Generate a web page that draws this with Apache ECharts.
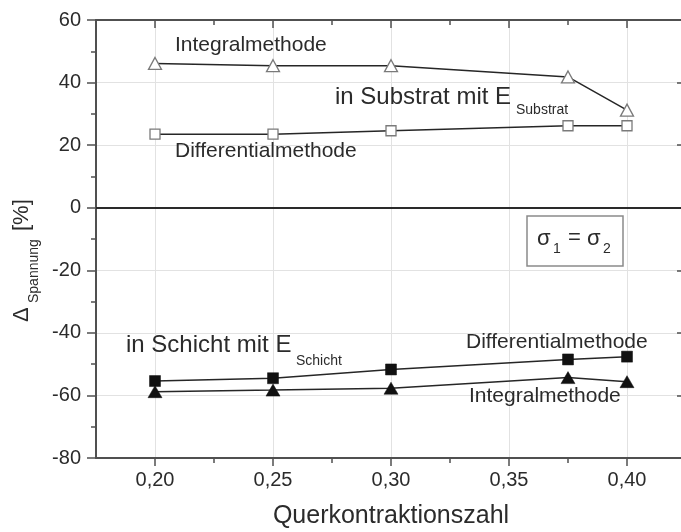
<!DOCTYPE html>
<html>
<head>
<meta charset="utf-8">
<script src="https://cdn.jsdelivr.net/npm/echarts@6/dist/echarts.min.js"></script>
<style>
  html, body { margin: 0; padding: 0; background: #fff; }
  #chart { width: 681px; height: 532px; }
</style>
</head>
<body>
<div id="chart"></div>
<script>
// Poisson's ratio (Querkontraktionszahl) of the evaluated cases
const nu = [0.20, 0.25, 0.30, 0.375, 0.40];

// Stress deviation in % – substrate (open symbols)
const substratIntegral     = [46.1, 45.4, 45.4, 41.8, 31.2];
const substratDifferential = [23.5, 23.5, 24.6, 26.2, 26.2];

// Stress deviation in % – layer (filled symbols)
const schichtDifferential  = [-55.4, -54.5, -51.7, -48.5, -47.6];
const schichtIntegral      = [-58.8, -58.3, -57.7, -54.3, -55.6];

// Axis tick positions
const xMajorTicks = [0.20, 0.25, 0.30, 0.35, 0.40];
const xMinorTicks = [0.225, 0.275, 0.325, 0.375];

const FONT = '"Liberation Sans", Arial, Helvetica, sans-serif';
const INK = '#2b2b2b';
const FRAME = '#505050';
const GRID = '#e2e2e2';

const pairs = (xs, ys) => xs.map((x, i) => [x, ys[i]]);

// text placed by its baseline (canvas "middle" sits ~0.3465 em above it)
function txt(text, x, baseline, size, extra) {
  return Object.assign({
    type: 'text',
    x: x,
    y: baseline - 0.3465 * size,
    z: 20,
    style: {
      text: text, fontSize: size, fontFamily: FONT, fill: INK,
      align: 'left', verticalAlign: 'middle',
      textAlign: 'left', textVerticalAlign: 'middle'
    }
  }, extra || {});
}

const openStyle = { color: '#ffffff', borderColor: '#7a7a7a', borderWidth: 1.3 };
const filledStyle = { color: '#111111', borderColor: '#111111', borderWidth: 0.5 };
const lineStyle = { color: '#262626', width: 1.5 };

const chart = echarts.init(document.getElementById('chart'), null, { renderer: 'canvas' });

const xBase = { type: 'value', min: 0.175, max: 0.425, gridIndex: 0 };

chart.setOption({
  animation: false,
  backgroundColor: '#ffffff',
  textStyle: { fontFamily: FONT },
  // the plot frame runs a few pixels past the right edge of the canvas
  grid: { left: 96, top: 20, width: 590, height: 438, containLabel: false,
          outerBoundsMode: 'none' },
  xAxis: [
    Object.assign({}, xBase, {
      position: 'bottom',
      name: 'Querkontraktionszahl',
      nameLocation: 'middle',
      nameGap: 46,
      nameTextStyle: { fontSize: 25, color: INK, fontFamily: FONT },
      axisLine: { show: true, onZero: false, lineStyle: { color: FRAME, width: 2 } },
      axisTick: { show: true, inside: false, length: 8, customValues: xMajorTicks,
                  lineStyle: { color: FRAME, width: 1.5 } },
      axisLabel: { show: true, customValues: xMajorTicks, margin: 12, fontSize: 20,
                   color: INK, fontFamily: FONT,
                   formatter: v => v.toFixed(2).replace('.', ',') },
      splitLine: { show: true, lineStyle: { color: GRID, width: 1 } }
    }),
    Object.assign({}, xBase, {
      position: 'bottom',
      axisLine: { show: false, onZero: false },
      axisTick: { show: true, inside: false, length: 5, customValues: xMinorTicks,
                  lineStyle: { color: FRAME, width: 1.5 } },
      axisLabel: { show: false },
      splitLine: { show: false }
    }),
    Object.assign({}, xBase, {
      position: 'top',
      axisLine: { show: true, onZero: false, lineStyle: { color: FRAME, width: 2 } },
      axisTick: { show: true, inside: true, length: 8, customValues: xMajorTicks,
                  lineStyle: { color: FRAME, width: 1.5 } },
      axisLabel: { show: false },
      splitLine: { show: false }
    }),
    Object.assign({}, xBase, {
      position: 'top',
      axisLine: { show: false, onZero: false },
      axisTick: { show: true, inside: true, length: 5, customValues: xMinorTicks,
                  lineStyle: { color: FRAME, width: 1.5 } },
      axisLabel: { show: false },
      splitLine: { show: false }
    })
  ],
  yAxis: [
    {
      type: 'value', min: -80, max: 60, interval: 20, position: 'left',
      axisLine: { show: true, onZero: false, lineStyle: { color: FRAME, width: 2 } },
      axisTick: { show: true, inside: false, length: 9, lineStyle: { color: FRAME, width: 1.5 } },
      minorTick: { show: true, splitNumber: 2, length: 5, lineStyle: { color: FRAME, width: 1.5 } },
      axisLabel: { show: true, margin: 15, fontSize: 20, color: INK, fontFamily: FONT },
      splitLine: { show: true, lineStyle: { color: GRID, width: 1 } }
    },
    {
      type: 'value', min: -80, max: 60, interval: 20, position: 'right',
      axisLine: { show: true, onZero: false, lineStyle: { color: FRAME, width: 2 } },
      axisTick: { show: true, inside: true, length: 9, lineStyle: { color: FRAME, width: 1.5 } },
      minorTick: { show: true, splitNumber: 2, length: 5, lineStyle: { color: FRAME, width: 1.5 } },
      axisLabel: { show: false },
      splitLine: { show: false }
    }
  ],
  series: [
    {
      name: 'Substrat Integralmethode', type: 'line', xAxisIndex: 0, yAxisIndex: 0,
      data: pairs(nu, substratIntegral),
      symbol: 'triangle', symbolSize: [13, 12], showAllSymbol: true,
      itemStyle: openStyle, lineStyle: lineStyle, z: 5,
      markLine: {
        silent: true, symbol: 'none', label: { show: false },
        lineStyle: { color: '#2a2a2a', width: 2, type: 'solid' },
        data: [{ yAxis: 0 }]
      }
    },
    {
      name: 'Substrat Differentialmethode', type: 'line', xAxisIndex: 0, yAxisIndex: 0,
      data: pairs(nu, substratDifferential),
      symbol: 'rect', symbolSize: 10, showAllSymbol: true,
      itemStyle: openStyle, lineStyle: lineStyle, z: 5
    },
    {
      name: 'Schicht Differentialmethode', type: 'line', xAxisIndex: 0, yAxisIndex: 0,
      data: pairs(nu, schichtDifferential),
      symbol: 'rect', symbolSize: 11, showAllSymbol: true,
      itemStyle: filledStyle, lineStyle: lineStyle, z: 5
    },
    {
      name: 'Schicht Integralmethode', type: 'line', xAxisIndex: 0, yAxisIndex: 0,
      data: pairs(nu, schichtIntegral),
      symbol: 'triangle', symbolSize: [14, 12], showAllSymbol: true,
      itemStyle: filledStyle, lineStyle: lineStyle, z: 5
    }
  ],
  graphic: [
    // curve captions
    txt('Integralmethode', 175, 52, 21),
    txt('in Substrat mit E', 335, 106, 24),
    txt('Substrat', 516, 115, 14),
    txt('Differentialmethode', 175, 158, 21),
    txt('in Schicht mit E', 126, 354, 24),
    txt('Schicht', 296, 366, 14),
    txt('Differentialmethode', 466, 349, 21),
    txt('Integralmethode', 469, 403, 21),
    // stress condition box
    {
      type: 'rect', z: 15,
      shape: { x: 527, y: 216, width: 96, height: 50 },
      style: { fill: '#ffffff', stroke: '#8a8a8a', lineWidth: 1.5 }
    },
    txt('σ', 537, 247, 22),
    txt('1', 553, 254, 14),
    txt('=', 568, 246, 22),
    txt('σ', 587, 247, 22),
    txt('2', 603, 254, 14),
    // rotated y-axis title: Δ_Spannung [%]
    {
      type: 'group', x: 30, y: 322, rotation: Math.PI / 2, z: 20,
      children: [
        txt('Δ', 0, 0, 22),
        txt('Spannung', 19, 8.5, 14),
        txt('[%]', 91, 0, 22)
      ]
    }
  ]
});
</script>
</body>
</html>
